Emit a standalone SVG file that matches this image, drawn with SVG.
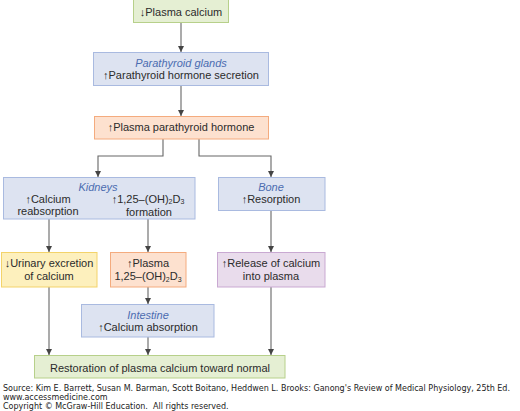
<svg xmlns="http://www.w3.org/2000/svg" width="520" height="411" viewBox="0 0 520 411">
<defs>
<marker id="ah" markerUnits="userSpaceOnUse" markerWidth="7" markerHeight="7" refX="6" refY="3" orient="auto">
<path d="M0,0 L6,3 L0,6 Z" fill="#444"/>
</marker>
<style>
.t{font-family:"Liberation Sans",Arial,sans-serif;font-size:11px;fill:#2b2b2b;text-anchor:middle}
.h{font-style:italic;fill:#4b6cb0}
.g{fill:#e5efd3;stroke:#b7d08a;stroke-width:1}
.b{fill:#dde3f1;stroke:#a9bae0;stroke-width:1}
.o{fill:#fde1cf;stroke:#f4ab7e;stroke-width:1}
.y{fill:#fdf0bd;stroke:#f3d36a;stroke-width:1}
.p{fill:#e9dcec;stroke:#c9a9d2;stroke-width:1}
.c{fill:none;stroke:#666;stroke-width:1.1;marker-end:url(#ah)}
.s{font-family:"DejaVu Sans",Verdana,sans-serif;font-size:8px;fill:#222}
.sub{font-size:7px}
</style>
</defs>
<g id="connectors">
<path class="c" d="M181,23 V52"/>
<path class="c" d="M181,86 V116"/>
<path class="c" d="M163,139 V156 H98 V177"/>
<path class="c" d="M199,139 V156 H271 V177"/>
<path class="c" d="M49,219 V252"/>
<path class="c" d="M148,219 V252"/>
<path class="c" d="M271,211 V252"/>
<path class="c" d="M148,287 V304"/>
<path class="c" d="M49,287 V355"/>
<path class="c" d="M148,337 V355"/>
<path class="c" d="M271,287 V355"/>
</g>
<g id="plasma-calcium">
<rect class="g" x="133.5" y="-1" width="95" height="23.5"/>
<text class="t" x="181" y="16">↓Plasma calcium</text>
</g>
<g id="parathyroid">
<rect class="b" x="93.5" y="52.5" width="175" height="33"/>
<text class="t h" x="181" y="66.5">Parathyroid glands</text>
<text class="t" x="181" y="78.5">↑Parathyroid hormone secretion</text>
</g>
<g id="pth">
<rect class="o" x="94.5" y="116.5" width="174" height="22.5"/>
<text class="t" x="181" y="131">↑Plasma parathyroid hormone</text>
</g>
<g id="kidneys">
<rect class="b" x="3.5" y="177.5" width="191.5" height="41.5"/>
<text class="t h" x="98" y="191">Kidneys</text>
<text class="t" x="48" y="203">↑Calcium</text>
<text class="t" x="48" y="215">reabsorption</text>
<text class="t" x="148" y="202.5">↑1,25–(OH)<tspan class="sub" dy="1.5">2</tspan><tspan dy="-1.5">D</tspan><tspan class="sub" dy="1.5">3</tspan></text>
<text class="t" x="149" y="215.5">formation</text>
</g>
<g id="bone">
<rect class="b" x="218.5" y="177.5" width="106.5" height="33"/>
<text class="t h" x="271" y="191">Bone</text>
<text class="t" x="271" y="203">↑Resorption</text>
</g>
<g id="urinary">
<rect class="y" x="1.5" y="252.5" width="95.5" height="34.5"/>
<text class="t" x="49" y="267">↓Urinary excretion</text>
<text class="t" x="49" y="280">of calcium</text>
</g>
<g id="plasma-d3">
<rect class="o" x="110.5" y="252.5" width="75.5" height="34.5"/>
<text class="t" x="148" y="267">↑Plasma</text>
<text class="t" x="148" y="280">1,25–(OH)<tspan class="sub" dy="1.5">2</tspan><tspan dy="-1.5">D</tspan><tspan class="sub" dy="1.5">3</tspan></text>
</g>
<g id="release">
<rect class="p" x="217.5" y="252.5" width="107.5" height="34.5"/>
<text class="t" x="271" y="267">↑Release of calcium</text>
<text class="t" x="271" y="280">into plasma</text>
</g>
<g id="intestine">
<rect class="b" x="81.5" y="304.5" width="132.5" height="32.5"/>
<text class="t h" x="148" y="319">Intestine</text>
<text class="t" x="148" y="331">↑Calcium absorption</text>
</g>
<g id="restoration">
<rect class="g" x="34.5" y="355.5" width="250.5" height="22.5"/>
<text class="t" x="160" y="372">Restoration of plasma calcium toward normal</text>
</g>
<g id="source">
<text class="s" x="3" y="391" textLength="507" lengthAdjust="spacingAndGlyphs">Source: Kim E. Barrett, Susan M. Barman, Scott Boitano, Heddwen L. Brooks: Ganong's Review of Medical Physiology, 25th Ed.</text>
<text class="s" x="3" y="400">www.accessmedicine.com</text>
<text class="s" x="3" y="409">Copyright © McGraw-Hill Education.&#160; All rights reserved.</text>
</g>
</svg>
